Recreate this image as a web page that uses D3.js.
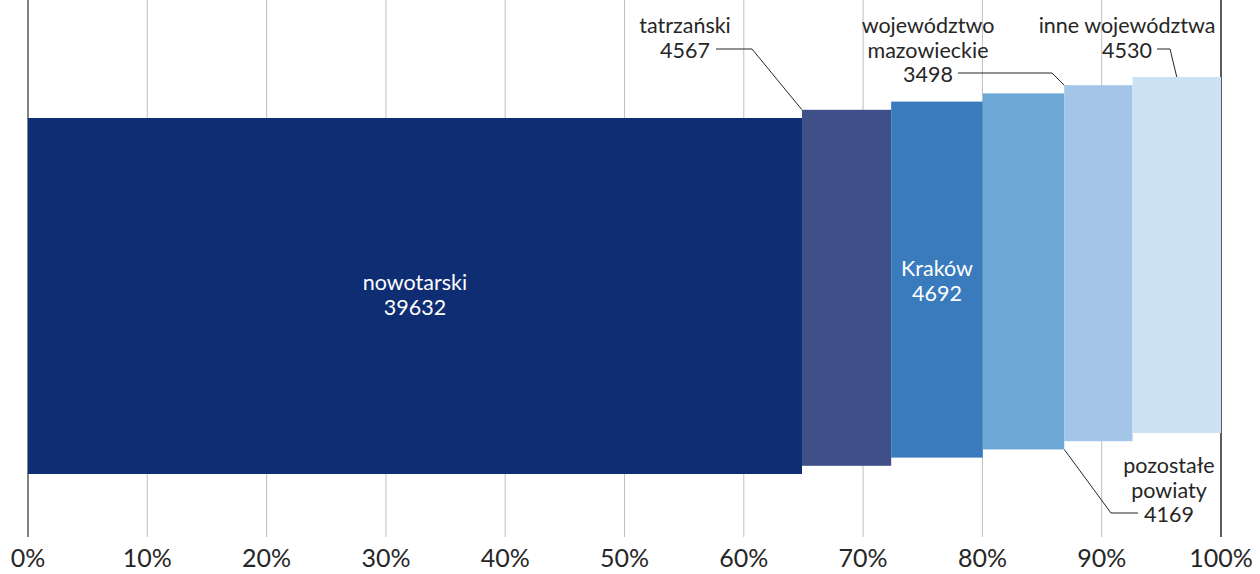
<!DOCTYPE html>
<html>
<head>
<meta charset="utf-8">
<script src="https://cdn.jsdelivr.net/npm/d3@7"></script>
<style>
  body { margin: 0; background: #fff; }
  text { font-family: Lato, "Open Sans", sans-serif; fill: #262626; }
</style>
</head>
<body>
<div id="frame"></div>
<script>
// data
const names = ["nowotarski", "tatrzański", "Kraków", "pozostałe powiaty", "województwo mazowieckie", "inne województwa"];
const values = [39632, 4567, 4692, 4169, 3498, 4530];
const colors = ["#0E2D72", "#3F4F88", "#3A7BBD", "#6CA8D6", "#A3C6E8", "#CDE1F5"];
const labelLines = [["nowotarski", "39632"], ["tatrzański", "4567"], ["Kraków", "4692"],
  ["pozostałe", "powiaty", "4169"], ["województwo", "mazowieckie", "3498"], ["inne województwa", "4530"]];
const ticks = [0, 0.1, 0.2, 0.3, 0.4, 0.5, 0.6, 0.7, 0.8, 0.9, 1];

const width = 1260, height = 574;
const total = d3.sum(values);
let acc = 0;
const segs = values.map((v, i) => {
  const s = { i, name: names[i], v, x0: acc / total, x1: (acc + v) / total };
  acc += v;
  return s;
});

const x = d3.scaleLinear().domain([0, 1]).range([28, 1221]);
const barH = 356, firstTop = 118, stepUp = 8.2;
const barTop = (i) => firstTop - i * stepUp;

const svg = d3.select("#frame").append("svg")
  .attr("width", width).attr("height", height);

// gridlines
svg.append("g").selectAll("line").data(ticks).join("line")
  .attr("x1", (d) => x(d)).attr("x2", (d) => x(d))
  .attr("y1", 0).attr("y2", 537)
  .attr("stroke", (d) => d === 0 ? "#595959" : d === 1 ? "#262626" : "#BFBFBF")
  .attr("stroke-width", (d) => d === 0 || d === 1 ? 1.5 : 1);

// bars
svg.append("g").selectAll("rect").data(segs).join("rect")
  .attr("x", (d) => x(d.x0)).attr("width", (d) => x(d.x1) - x(d.x0))
  .attr("y", (d) => barTop(d.i)).attr("height", barH)
  .attr("fill", (d) => colors[d.i]);

// axis labels
svg.append("g").selectAll("text").data(ticks).join("text")
  .attr("x", (d) => x(d)).attr("y", 567)
  .attr("text-anchor", "middle").attr("font-size", 25)
  .text((d) => d3.format(".0%")(d));

// labels: inside or outside
const lh = 24.5;
const mid = (s) => (x(s.x0) + x(s.x1)) / 2;
const labelPos = [
  { cx: mid(segs[0]), y: 290, inside: true },
  { cx: 685, y: 33 },
  { cx: mid(segs[2]), y: 276, inside: true },
  { cx: 1169, y: 473 },
  { cx: 928, y: 33 },
  { cx: 1127, y: 33 }
];
segs.forEach((s, i) => {
  const p = labelPos[i];
  labelLines[i].forEach((ln, k) => {
    svg.append("text").attr("text-anchor", "middle").attr("font-size", 21.5)
      .style("fill", p.inside ? "#fff" : "#262626")
      .attr("x", p.cx).attr("y", p.y + k * lh).text(ln);
  });
});

// leader lines
const leaders = [
  [[716, 49], [752, 49], [x(segs[1].x0), barTop(1)]],
  [[1138, 513], [1111, 513], [x(segs[3].x1), barTop(3) + barH]],
  [[958, 73], [1052, 73], [x(segs[4].x0), barTop(4)]],
  [[1157, 49], [1170, 49], [mid(segs[5]), barTop(5)]]
];
svg.append("g").selectAll("path").data(leaders).join("path")
  .attr("d", (d) => d3.line()(d))
  .attr("fill", "none").attr("stroke", "#262626").attr("stroke-width", 1);
</script>
</body>
</html>
